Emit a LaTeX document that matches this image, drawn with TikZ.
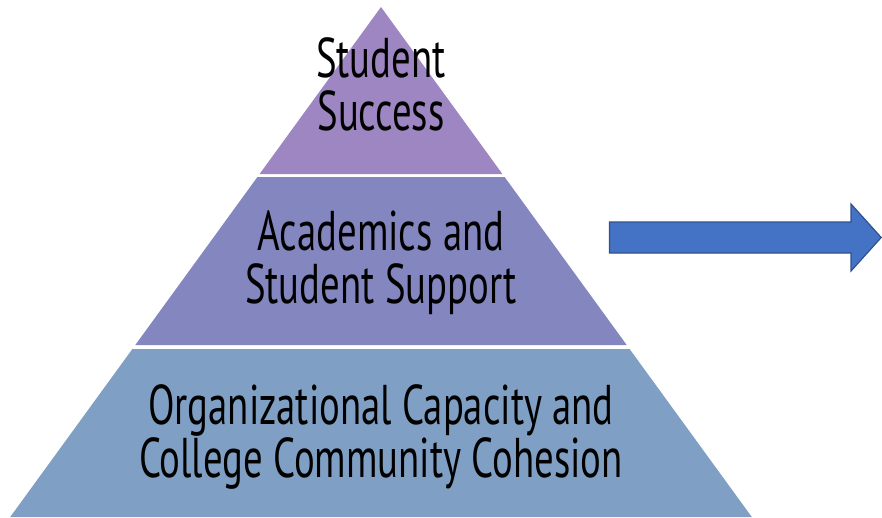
\documentclass[tikz,border=0pt]{standalone}
\usepackage{fontspec}
\setmainfont[FakeStretch=0.692]{PT Sans}
\definecolor{tiertop}{HTML}{9D86C1}
\definecolor{tiermid}{HTML}{8486C0}
\definecolor{tierbot}{HTML}{7FA0C4}
\definecolor{arrowfill}{HTML}{4472C4}
\definecolor{arrowedge}{HTML}{2F528F}
\tikzset{
  tierlabel/.style={anchor=base, inner sep=0pt, align=center, text=black, font=\fontsize{56}{53}\selectfont},
}
\begin{document}
\begin{tikzpicture}[x=1pt,y=-1pt]
\useasboundingbox (0,0) rectangle (882,517);
% tiers
\fill[tiertop] (381,7) -- (502.4,174) -- (259.6,174) -- cycle;
\fill[tiermid] (257.4,177) -- (504.6,177) -- (626.7,345) -- (135.3,345) -- cycle;
\fill[tierbot] (132.4,349) -- (629.6,349) -- (751.8,517) -- (10.2,517) -- cycle;
% labels (base anchor = baseline of last line)
\node[tierlabel] (top) at (381,130) {Student\\Success};
\node[tierlabel] (mid) at (381,303) {Academics and\\Student Support};
\node[tierlabel] (bot) at (381,477) {Organizational Capacity and\\College Community Cohesion};
% arrow
\draw[fill=arrowfill, draw=arrowedge, line width=1.2pt, line join=miter]
  (609.5,222) -- (851,222) -- (851,204) -- (881.2,237.5) -- (851,271) -- (851,253) -- (609.5,253) -- cycle;
\end{tikzpicture}
\end{document}
